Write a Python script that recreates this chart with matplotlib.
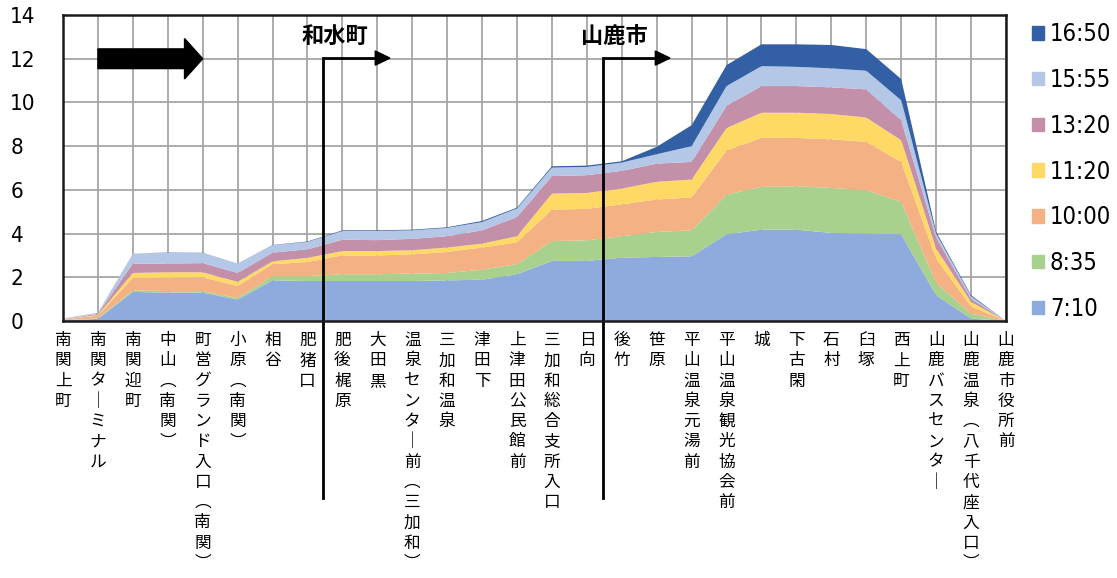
import matplotlib
matplotlib.use("Agg")
import matplotlib.pyplot as plt
from matplotlib.patches import FancyArrow, Patch

plt.rcParams['font.family'] = ['Noto Sans CJK JP', 'DejaVu Sans']

stops = ['南関上町', '南関ターミナル', '南関迎町', '中山（南関）', '町営グランド入口（南関）',
         '小原（南関）', '相谷', '肥猪口', '肥後梶原', '大田黒', '温泉センター前（三加和）',
         '三加和温泉', '津田下', '上津田公民館前', '三加和総合支所入口', '日向', '後竹', '笹原',
         '平山温泉元湯前', '平山温泉観光協会前', '城', '下古閑', '石村', '臼塚', '西上町',
         '山鹿バスセンター', '山鹿温泉（八千代座入口）', '山鹿市役所前']

times = ['7:10', '8:35', '10:00', '11:20', '13:20', '15:55', '16:50']

s0710 = [0.02, 0.10, 1.33, 1.30, 1.30, 0.98, 1.86, 1.83, 1.83, 1.83, 1.83, 1.86, 1.89, 2.14,
         2.75, 2.75, 2.90, 2.93, 2.96, 3.97, 4.18, 4.18, 4.03, 4.00, 3.97, 1.18, 0.11, 0]
s0835 = [0.01, 0.03, 0.07, 0.07, 0.07, 0.07, 0.19, 0.22, 0.31, 0.31, 0.34, 0.34, 0.46, 0.46,
         0.91, 0.94, 0.98, 1.15, 1.19, 1.81, 1.96, 1.99, 2.06, 1.98, 1.48, 0.56, 0.23, 0]
s1000 = [0.03, 0.12, 0.57, 0.61, 0.63, 0.55, 0.55, 0.65, 0.86, 0.86, 0.88, 0.96, 1.01, 1.00,
         1.44, 1.44, 1.46, 1.48, 1.50, 2.02, 2.24, 2.21, 2.22, 2.22, 1.83, 1.11, 0.33, 0]
s1120 = [0.01, 0.03, 0.23, 0.25, 0.23, 0.19, 0.13, 0.19, 0.20, 0.20, 0.19, 0.20, 0.18, 0.28,
         0.73, 0.73, 0.72, 0.81, 0.82, 1.03, 1.15, 1.15, 1.16, 1.11, 0.99, 0.46, 0.20, 0]
s1320 = [0.02, 0.05, 0.43, 0.40, 0.42, 0.41, 0.40, 0.39, 0.52, 0.50, 0.52, 0.52, 0.61, 0.88,
         0.80, 0.81, 0.81, 0.83, 0.81, 1.02, 1.22, 1.22, 1.22, 1.29, 0.92, 0.51, 0.15, 0]
s1555 = [0.02, 0.05, 0.45, 0.50, 0.46, 0.43, 0.34, 0.34, 0.40, 0.42, 0.39, 0.38, 0.38, 0.39,
         0.39, 0.38, 0.38, 0.43, 0.72, 0.90, 0.91, 0.88, 0.87, 0.85, 0.91, 0.18, 0.11, 0]
s1650 = [0, 0, 0, 0.01, 0.01, 0, 0.01, 0.02, 0.03, 0.03, 0.03, 0.03, 0.05, 0.04,
         0.06, 0.06, 0.06, 0.34, 0.96, 0.96, 1.00, 1.03, 1.07, 0.99, 0.97, 0.08, 0.05, 0]

colors = ['#8FAADC', '#A9D18E', '#F4B183', '#FFD966', '#C490A9', '#B4C7E7', '#335FA5']


def tate(s):
    # stack the characters for vertical writing
    rep = {'ー': '｜', '（': '︵', '）': '︶'}
    return '\n'.join(rep.get(c, c) for c in s)


fig = plt.figure(figsize=(11.17, 5.78), dpi=100)
ax = fig.add_axes([0.0564, 0.4446, 0.8442, 0.5294])

x = list(range(len(stops)))
ax.stackplot(x, s0710, s0835, s1000, s1120, s1320, s1555, s1650,
             colors=colors, linewidth=0, zorder=2)

ax.set_xlim(0, len(stops) - 1)
ax.set_ylim(0, 14)
ax.set_yticks(range(0, 15, 2))
ax.set_xticks(x)
ax.set_xticklabels([tate(s) for s in stops], fontsize=12, linespacing=1.25,
                   va='top', ha='center')
ax.grid(True, color='#A6A6A6', linewidth=1.3, zorder=1)
ax.set_axisbelow(True)
ax.tick_params(axis='both', length=0)
ax.tick_params(axis='x', pad=8)
ax.tick_params(axis='y', pad=38, labelsize=16)
for t in ax.get_yticklabels():
    t.set_ha('left')
    t.set_fontfamily('DejaVu Sans')
    t.set_fontstretch('condensed')
for sp in ax.spines.values():
    sp.set_color('#1A1A1A')
    sp.set_linewidth(1.8)
    sp.set_zorder(5)

# direction arrow
ax.add_patch(FancyArrow(1.0, 12.0, 3.0, 0, width=0.9, head_width=1.85, head_length=0.52,
                        length_includes_head=True, color='black', zorder=4))

# city boundaries
for bx, name in [(7.44, '和水町'), (15.46, '山鹿市')]:
    ax.plot([bx, bx, bx + 1.55], [-8.1, 12.03, 12.03], color='black', lw=2,
            clip_on=False, zorder=4, solid_joinstyle='miter')
    ax.add_patch(FancyArrow(bx + 1.5, 12.03, 0.42, 0, width=0.0, head_width=0.65,
                            head_length=0.42, length_includes_head=True,
                            color='black', zorder=4))
    ax.text(bx - 0.62, 12.5, name, fontsize=16, fontweight='bold', ha='left',
            va='bottom', zorder=4)

handles = [Patch(color=c) for c in colors][::-1]
labels = times[::-1]
fig.legend(handles, labels, loc='upper left', bbox_to_anchor=(0.905, 0.998),
           frameon=False, handlelength=0.5, handleheight=0.5, handletextpad=0.25,
           labelspacing=0.92,
           prop={'family': 'DejaVu Sans', 'stretch': 'condensed', 'size': 17})

fig.savefig('out.png', dpi=100)
